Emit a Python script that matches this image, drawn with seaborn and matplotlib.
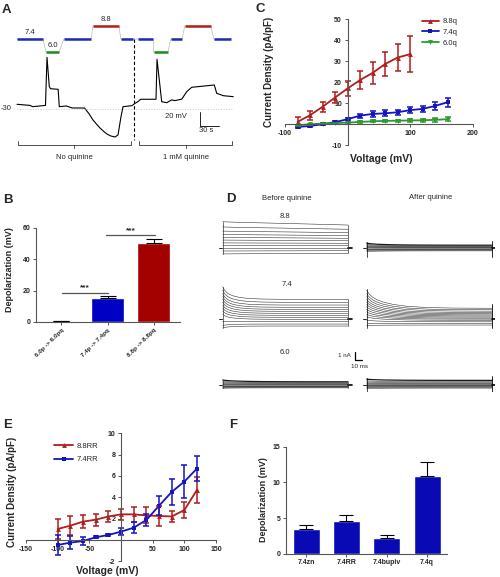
import numpy as np
import pandas as pd
import matplotlib
matplotlib.use("Agg")
import matplotlib.pyplot as plt
import seaborn as sns

sns.set_theme(style="ticks")
plt.rcParams['font.family'] = ['Liberation Sans', 'DejaVu Sans']

W, H = 500, 577

# ---------------- Panel A data ----------------
A_TIME = [0, 20, 25, 45, 47.4, 51, 53, 65, 66.8, 78, 87, 107, 109, 114, 120, 126, 131, 137, 142,
          148, 155, 159.6, 164.3, 167.5, 181.7, 186.4, 191, 195.4, 219.6, 221.2, 228.6, 236.5,
          244.4, 249.6, 260.2, 268.1, 276, 311.7, 315.5, 326, 341.7]
A_VOLT = [-23.3, -24.8, -26.7, -24.8, 43.8, 1.9, -1.0, -1.9, -26.7, -25.7, -28.5, -28.6, -31.4,
          -37, -45.7, -52, -57, -62, -65.7, -68.5, -70, -67, -41, -26.7, -25.2, -21.9, -19.6,
          -16.1, -16.1, 41, -19.6, -21, -17, -18, -16, -5.3, 1, 4.3, -7.6, -11, -12.4]
A_PH_START = [0, 45.8, 74, 120, 164, 191, 216, 243, 265, 311]
A_PH_END = [41, 66.4, 117, 161, 183, 215, 238.5, 261, 306, 338]
A_PH = [7.4, 6.0, 7.4, 8.8, 7.4, 7.4, 6.0, 7.4, 8.8, 7.4]
A_QUININE_T = 184.8
A_GROUPS = ["No quinine", "1 mM quinine"]
A_GROUP_START = [1.6, 192.7]
A_GROUP_END = [180, 339.7]

# ---------------- Panel B data ----------------
B_CATS = ["6.0p -> 6.0pq", "7.4p -> 7.4pq", "8.8p -> 8.8pq"]
B_MEAN = [0.4, 15.1, 50.6]
B_SEM = [0.2, 1.3, 2.2]

# ---------------- Panel C data ----------------
C_V_88 = [-80, -60, -40, -20, 0, 20, 40, 60, 80, 100]
C_I_88 = [1.1, 4.3, 8.3, 12.7, 17.0, 21.0, 24.4, 28.6, 31.7, 33.3]
C_E_88 = [2.2, 2.1, 2.4, 2.8, 3.6, 4.4, 5.2, 5.8, 6.5, 8.5]
C_V_74 = [-80, -60, -40, -20, 0, 20, 40, 60, 80, 100, 120, 140, 160]
C_I_74 = [-1.3, -0.8, 0.0, 1.0, 2.4, 4.1, 4.9, 5.2, 5.7, 6.7, 7.3, 8.7, 10.5]
C_E_74 = [0.4, 0.4, 0.4, 0.5, 0.6, 1.0, 1.4, 1.4, 1.3, 1.4, 1.6, 1.8, 2.2]
C_V_60 = [-80, -60, -40, -20, 0, 20, 40, 60, 80, 100, 120, 140, 160]
C_I_60 = [-0.5, 0.0, 0.3, 0.5, 0.8, 1.1, 1.4, 1.6, 1.7, 1.8, 1.9, 2.1, 2.4]
C_E_60 = [0.3, 0.3, 0.3, 0.3, 0.3, 0.4, 0.4, 0.5, 0.5, 0.6, 0.6, 0.8, 1.0]

# ---------------- Panel D data (nA, relative to holding) ----------------
D_T = [0, 3, 8, 15, 25, 40, 60, 90, 130, 187]
D_SHAPE_SLOW = [1, 0.97, 0.93, 0.88, 0.82, 0.74, 0.64, 0.5, 0.3, 0]
D_SHAPE_FAST = [1, 0.7, 0.45, 0.28, 0.15, 0.06, 0.02, 0.0, 0.0, 0]
D_SHAPE_MED = [1, 0.82, 0.64, 0.48, 0.34, 0.21, 0.11, 0.04, 0.01, 0]
D88B_SS = [2.73, 2.22, 1.81, 1.45, 1.13, 0.84, 0.53, 0.24, -0.07, -0.36, -0.67]
D88B_IN = [3.13, 2.5, 2.0, 1.6, 1.25, 0.92, 0.58, 0.27, -0.07, -0.4, -0.75]
D88A_SS = [0.3, 0.22, 0.15, 0.1, 0.05, 0.0, -0.05, -0.1, -0.15, -0.22, -0.3, -0.38]
D88A_IN = [0.55, 0.4, 0.28, 0.18, 0.1, 0.03, -0.04, -0.1, -0.17, -0.26, -0.36, -0.46]
D74B_SS = [2.41, 2.05, 1.72, 1.45, 1.2, 0.96, 0.72, 0.48, 0.24, 0.0, -0.28, -0.57, -0.81]
D74B_IN = [3.93, 3.5, 3.1, 2.75, 2.4, 2.05, 1.7, 1.35, 1.0, 0.6, -0.3, -0.75, -1.05]
D74A_SS = [1.33, 1.15, 0.98, 0.82, 0.67, 0.53, 0.4, 0.27, 0.14, 0.02, -0.12, -0.3, -0.5, -0.69]
D74A_IN = [3.5, 3.1, 2.75, 2.4, 2.1, 1.8, 1.5, 1.2, 0.9, 0.6, 0.3, -0.1, -0.5, -0.75]
D60B_SS = [0.38, 0.3, 0.22, 0.15, 0.08, 0.02, -0.04, -0.1, -0.16, -0.22, -0.28, -0.35]
D60B_IN = [0.6, 0.42, 0.3, 0.2, 0.1, 0.03, -0.04, -0.1, -0.17, -0.24, -0.31, -0.4]
D60A_SS = [0.55, 0.4, 0.3, 0.2, 0.12, 0.05, -0.02, -0.08, -0.15, -0.22, -0.3, -0.38]
D60A_IN = [0.7, 0.5, 0.36, 0.24, 0.14, 0.06, -0.02, -0.09, -0.17, -0.25, -0.34, -0.44]

# ---------------- Panel E data ----------------
E_V = [-100, -80, -60, -40, -20, 0, 20, 40, 60, 80, 100, 120]
E_I_88 = [1.03, 1.34, 1.72, 1.9, 2.2, 2.4, 2.4, 2.3, 2.25, 2.2, 2.8, 4.7]
E_E_88 = [0.9, 0.9, 0.6, 0.55, 0.55, 0.55, 0.7, 0.75, 0.9, 0.55, 0.75, 1.25]
E_I_74 = [-0.47, -0.25, -0.1, 0.25, 0.47, 0.78, 1.15, 1.87, 3.2, 4.5, 5.47, 6.7]
E_E_74 = [0.95, 0.6, 0.4, 0.1, 0.1, 0.3, 0.5, 0.6, 0.9, 1.25, 1.55, 1.2]

# ---------------- Panel F data ----------------
F_CATS = ["7.4zn", "7.4RR", "7.4bupiv", "7.4q"]
F_MEAN = [3.41, 4.63, 2.15, 10.84]
F_SEM = [0.66, 0.75, 0.42, 2.0]

RED = "#b01e1e"
BLUE = "#1414c0"
GREEN = "#2e9a2e"
AXC = "#555555"


def rect(x0, y0, x1, y1):
    return [x0 / W, 1 - y1 / H, (x1 - x0) / W, (y1 - y0) / H]


def style_axes(ax, fs=5):
    for s in ['top', 'right']:
        ax.spines[s].set_visible(False)
    for s in ['left', 'bottom']:
        ax.spines[s].set_color(AXC)
        ax.spines[s].set_linewidth(0.8)
    ax.tick_params(direction='out', length=2.5, width=0.7, color=AXC, labelsize=fs, pad=1.5)
    for lab in ax.get_xticklabels() + ax.get_yticklabels():
        lab.set_fontweight('bold')


fig = plt.figure(figsize=(W / 100, H / 100), dpi=100)

# ======================= Panel A =======================
axA = fig.add_axes(rect(0, 0, 245, 165))
axA.set_xlim(-26.86, 360.2)
axA.set_ylim(-110, 125.7)
axA.axis('off')
sns.lineplot(x=A_TIME, y=A_VOLT, ax=axA, color='black', lw=0.8, sort=False, estimator=None)

PH_COLORS = {7.4: "#1a2db5", 6.0: "#1e8c1e", 8.8: "#b3211b"}


def ph_y(ph):
    return 70 + (ph - 7.4) * 13.3


px, py = [], []
for s, e, ph in zip(A_PH_START, A_PH_END, A_PH):
    px += [s, e]
    py += [ph_y(ph)] * 2
axA.plot(px, py, color='#bbbbbb', lw=0.5)
seen = set()
for s, e, ph in zip(A_PH_START, A_PH_END, A_PH):
    axA.plot([s, e], [ph_y(ph)] * 2, color=PH_COLORS[ph], lw=1.8, solid_capstyle='butt')
    if ph not in seen:
        seen.add(ph)
        axA.text((s + e) / 2, ph_y(ph) + 4, f"{ph:.1f}", ha='center', va='bottom', fontsize=5.5)
axA.plot([0, A_TIME[-1]], [-30, -30], color='#c8c8c8', lw=0.7, ls=':')
axA.text(-8.4, -30, "-30", ha='right', va='center', fontsize=5.5)
axA.plot([A_QUININE_T, A_QUININE_T], [70, -74.3], color='black', lw=0.8, ls=(0, (3, 2)))
# scale bar
axA.plot([289, 289, 319], [-34.3, -54.3, -54.3], color='black', lw=0.6)
axA.text(251, -41.4, "20 mV", ha='center', va='center', fontsize=5.5)
axA.text(298.6, -61.4, "30 s", ha='center', va='center', fontsize=5.5)
for name, s, e in zip(A_GROUPS, A_GROUP_START, A_GROUP_END):
    m = (s + e) / 2
    axA.plot([s, s, e, e], [-75.7, -81.4, -81.4, -75.7], color='#333333', lw=0.6)
    axA.plot([m, m], [-81.4, -85.7], color='#333333', lw=0.6)
    axA.text(m, -98.6, name, ha='center', va='center', fontsize=5.5)

# ======================= Panel B =======================
axB = fig.add_axes(rect(36, 228, 180, 322))
dfB = pd.DataFrame({"cond": B_CATS, "dep": B_MEAN})
sns.barplot(data=dfB, x="cond", y="dep", hue="cond", palette=[GREEN, "#0000c4", "#a30000"],
            width=0.71, ax=axB, legend=False, saturation=1, errorbar=None)
axB.errorbar(range(3), B_MEAN, yerr=[np.zeros(3), B_SEM], fmt='none', ecolor='black',
             capsize=6, elinewidth=0.8, capthick=0.8)
axB.set_xlim(-0.54, 2.56)
axB.set_ylim(0, 60)
axB.set_yticks([0, 20, 40, 60])
axB.set_xlabel("")
axB.set_ylabel("")
style_axes(axB)
axB.set_xticks(range(3))
axB.set_xticklabels(B_CATS, rotation=45, ha='right', rotation_mode='anchor', fontsize=4.5,
                    fontweight='bold')
for (a, b, yv) in [(0.02, 1.01, 18.7), (0.97, 2.02, 55.5)]:
    axB.plot([a, b], [yv, yv], color='#555555', lw=0.9, clip_on=False)
    axB.text((a + b) / 2, yv + 0.8, "***", ha='center', va='bottom', fontsize=6, fontweight='bold')
fig.text(10 / W, 1 - 270 / H, "Depolarization (mV)", rotation=90, ha='center', va='center',
         fontsize=6.5, fontweight='bold')

# ======================= Panel C =======================
axC = fig.add_axes(rect(285, 19, 472.7, 145.3))
dfC = pd.concat([
    pd.DataFrame({"V": C_V_88, "I": C_I_88, "s": "8.8q"}),
    pd.DataFrame({"V": C_V_74, "I": C_I_74, "s": "7.4q"}),
    pd.DataFrame({"V": C_V_60, "I": C_I_60, "s": "6.0q"}),
])
palC = {"8.8q": RED, "7.4q": BLUE, "6.0q": GREEN}
sns.lineplot(data=dfC, x="V", y="I", hue="s", style="s", palette=palC,
             markers={"8.8q": "^", "7.4q": "s", "6.0q": "v"}, dashes=False, ax=axC,
             lw=1.3, markersize=3.5, markeredgewidth=0, estimator=None)
for v, i, e, k in [(C_V_88, C_I_88, C_E_88, "8.8q"), (C_V_74, C_I_74, C_E_74, "7.4q"),
                   (C_V_60, C_I_60, C_E_60, "6.0q")]:
    axC.errorbar(v, i, yerr=e, fmt='none', ecolor=palC[k], capsize=2, elinewidth=1.1, capthick=1.1)
axC.set_xlim(-100, 200)
axC.set_ylim(-10, 50)
axC.spines['left'].set_position(('data', 0))
axC.spines['bottom'].set_position(('data', 0))
axC.set_xticks([-100, 0, 100, 200])
axC.set_xticklabels(['-100', '', '100', '200'])
axC.set_yticks([-10, 0, 10, 20, 30, 40, 50])
axC.set_yticklabels(['-10', '', '10', '20', '30', '40', '50'])
axC.set_xlabel("")
axC.set_ylabel("")
style_axes(axC)
legC = axC.legend(loc='upper left', bbox_to_anchor=(0.70, 1.05), frameon=False, fontsize=5.5,
                  handlelength=2.2, labelspacing=0.45, handletextpad=0.5, borderpad=0.2)
fig.text(381 / W, 1 - 159 / H, "Voltage (mV)", ha='center', va='center', fontsize=7.5,
         fontweight='bold')
fig.text(269 / W, 1 - 72 / H, "Current Density (pA/pF)", rotation=90, ha='center', va='center',
         fontsize=7, fontweight='bold')

# ======================= Panel D =======================
axD = fig.add_axes(rect(215, 195, 495, 392))
axD.set_xlim(-11.5, 406.4)
axD.set_ylim(-17.39, 6.35)
axD.axis('off')
T_AFTER = 214.9
ROW = {"8.8": 0.0, "7.4": -8.63, "6.0": -16.54}
families = [
    (0, ROW["8.8"], D88B_IN, D88B_SS, D_SHAPE_SLOW, False),
    (T_AFTER, ROW["8.8"], D88A_IN, D88A_SS, D_SHAPE_MED, True),
    (0, ROW["7.4"], D74B_IN, D74B_SS, D_SHAPE_FAST, False),
    (T_AFTER, ROW["7.4"], D74A_IN, D74A_SS, D_SHAPE_MED, False),
    (0, ROW["6.0"], D60B_IN, D60B_SS, D_SHAPE_MED, True),
    (T_AFTER, ROW["6.0"], D60A_IN, D60A_SS, D_SHAPE_MED, True),
]
tt = np.array(D_T)
for t0, y0, ins, sss, shape, band in families:
    shp = np.array(shape)
    for k, (a, b) in enumerate(zip(ins, sss)):
        yy = y0 + b + (a - b) * shp
        lw = 0.9 if (band and k == 0) else 0.4
        axD.plot(t0 + tt, yy, color='#1a1a1a' if (band and k == 0) else '#333333', lw=lw)
    # holding markers
    axD.plot([t0 - 5, t0 - 1], [y0, y0], color='black', lw=0.6)
    axD.plot([t0 + D_T[-1], t0 + D_T[-1] + 6], [y0, y0], color='black', lw=1.2)
    top = max(ins)
    bot = min(ins)
    if t0 > 0:
        axD.plot([t0, t0], [y0 + top + 0.1, y0 - 1.1], color='black', lw=0.5)
        axD.plot([t0 + D_T[-1], t0 + D_T[-1]], [y0 + max(sss) + 0.5, y0 - 1.1], color='black', lw=0.6)
    else:
        axD.plot([t0, t0], [y0 + top, y0 + bot], color='#333333', lw=0.5)
        axD.plot([t0 + D_T[-1], t0 + D_T[-1]], [y0 + max(sss), y0 + min(sss)], color='#333333', lw=0.5)
axD.text(96, 5.87, "Before quinine", ha='center', va='center', fontsize=5.5)
axD.text(310.9, 5.99, "After quinine", ha='center', va='center', fontsize=5.5)
axD.text(93, 3.7, "8.8", ha='center', va='center', fontsize=5.5)
axD.text(95.5, -4.49, "7.4", ha='center', va='center', fontsize=5.5)
axD.text(93, -12.69, "6.0", ha='center', va='center', fontsize=5.5)
axD.plot([197.5, 197.5, 207.5], [-12.53, -13.53, -13.53], color='black', lw=0.9)
axD.text(191, -13.0, "1 nA", ha='right', va='center', fontsize=4.5)
axD.text(204.9, -14.37, "10 ms", ha='center', va='center', fontsize=4.5)

# ======================= Panel E =======================
axE = fig.add_axes(rect(26, 433.3, 216, 561.3))
dfE = pd.concat([
    pd.DataFrame({"V": E_V, "I": E_I_88, "s": "8.8RR"}),
    pd.DataFrame({"V": E_V, "I": E_I_74, "s": "7.4RR"}),
])
palE = {"8.8RR": RED, "7.4RR": BLUE}
sns.lineplot(data=dfE, x="V", y="I", hue="s", style="s", palette=palE,
             markers={"8.8RR": "^", "7.4RR": "s"}, dashes=False, ax=axE,
             lw=1.3, markersize=3.5, markeredgewidth=0, estimator=None)
for i, e, k in [(E_I_88, E_E_88, "8.8RR"), (E_I_74, E_E_74, "7.4RR")]:
    axE.errorbar(E_V, i, yerr=e, fmt='none', ecolor=palE[k], capsize=2, elinewidth=1.1, capthick=1.1)
axE.set_xlim(-150, 150)
axE.set_ylim(-2, 10)
axE.spines['left'].set_position(('data', 0))
axE.spines['bottom'].set_position(('data', 0))
axE.set_xticks([-150, -100, -50, 0, 50, 100, 150])
axE.set_xticklabels(['-150', '-100', '-50', '', '50', '100', '150'])
axE.set_yticks([-2, 0, 2, 4, 6, 8, 10])
axE.set_yticklabels(['-2', '', '2', '4', '6', '8', '10'])
axE.set_xlabel("")
axE.set_ylabel("")
style_axes(axE)
axE.legend(loc='upper left', bbox_to_anchor=(0.12, 0.97), frameon=False, fontsize=5.5,
           handlelength=2.5, labelspacing=0.8, handletextpad=0.5, borderpad=0.2)
fig.text(107 / W, 1 - 570.5 / H, "Voltage (mV)", ha='center', va='center', fontsize=7.5,
         fontweight='bold')
fig.text(11.7 / W, 1 - 492 / H, "Current Density (pA/pF)", rotation=90, ha='center', va='center',
         fontsize=7, fontweight='bold')

# ======================= Panel F =======================
axF = fig.add_axes(rect(286, 446.7, 447.3, 553.7))
dfF = pd.DataFrame({"cond": F_CATS, "dep": F_MEAN})
sns.barplot(data=dfF, x="cond", y="dep", color="#0a0ab4", width=0.67, ax=axF, saturation=1,
            errorbar=None)
axF.errorbar(range(4), F_MEAN, yerr=[np.zeros(4), F_SEM], fmt='none', ecolor='black',
             capsize=5, elinewidth=0.8, capthick=0.8)
axF.set_xlim(-0.5, 3.5)
axF.set_ylim(0, 15)
axF.set_yticks([0, 5, 10, 15])
axF.set_xlabel("")
axF.set_ylabel("")
style_axes(axF)
fig.text(263.3 / W, 1 - 500 / H, "Depolarization (mV)", rotation=90, ha='center', va='center',
         fontsize=6.5, fontweight='bold')

# panel letters
for lab, x, y in [("A", 2, 4), ("B", 3, 194), ("C", 256, 3), ("D", 226.5, 193), ("E", 3, 419),
                  ("F", 229, 419)]:
    fig.text(x / W, 1 - y / H, lab, ha='left', va='top', fontsize=9.5, fontweight='bold')

fig.savefig("out.png", dpi=100)
